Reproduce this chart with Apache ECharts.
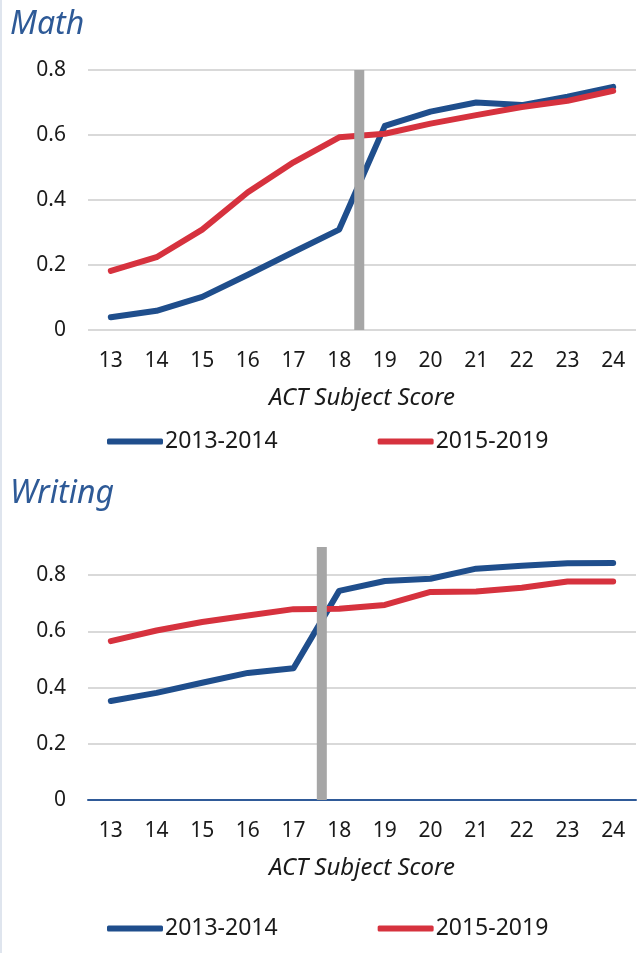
<!DOCTYPE html>
<html>
<head>
<meta charset="utf-8">
<script src="https://cdn.jsdelivr.net/npm/echarts@6/dist/echarts.min.js"></script>
<style>
html, body { margin: 0; padding: 0; background: #fff; }
#chart { width: 644px; height: 953px; }
</style>
</head>
<body>
<div id="chart"></div>
<script>
var scores = ['13', '14', '15', '16', '17', '18', '19', '20', '21', '22', '23', '24'];
var seriesNames = ['2013-2014', '2015-2019'];
var mathEarly = [0.039, 0.059, 0.102, 0.170, 0.240, 0.309, 0.628, 0.672, 0.700, 0.692, 0.718, 0.748];
var mathLate = [0.182, 0.224, 0.309, 0.424, 0.516, 0.593, 0.604, 0.635, 0.661, 0.686, 0.705, 0.736];
var writingEarly = [0.352, 0.381, 0.417, 0.452, 0.469, 0.744, 0.779, 0.787, 0.823, 0.833, 0.842, 0.843];
var writingLate = [0.565, 0.603, 0.633, 0.656, 0.679, 0.680, 0.694, 0.740, 0.742, 0.755, 0.777, 0.777];
var mathCutoff = 18.44;
var writingCutoff = 17.62;

var font = 'Noto Sans';
var blue = '#1f4e8c';
var red = '#d6323e';
var grey = '#a6a6a6';

function lineSeries(name, data, idx) {
	return {
		name: name,
		type: 'line',
		xAxisIndex: idx * 2,
		yAxisIndex: idx,
		data: data,
		showSymbol: false,
		symbol: 'none',
		lineStyle: { width: 6, cap: 'round', join: 'round' },
		z: 3
	};
}

function cutoffSeries(value, top, idx) {
	return {
		type: 'line',
		xAxisIndex: idx * 2 + 1,
		yAxisIndex: idx,
		data: [[value, 0], [value, top]],
		showSymbol: false,
		symbol: 'none',
		color: grey,
		lineStyle: { width: 10, color: grey, cap: 'butt' },
		z: 5,
		silent: true
	};
}

function catAxis(idx, showLine) {
	return {
		type: 'category',
		gridIndex: idx,
		data: scores,
		boundaryGap: true,
		axisTick: { show: false },
		axisLine: { show: showLine, lineStyle: { color: '#2f5a98', width: 2 } },
		axisLabel: { fontFamily: font, fontSize: 21, color: '#1a1a1a', margin: 21 },
		name: 'ACT Subject Score',
		nameLocation: 'middle',
		nameGap: 56,
		nameTextStyle: { fontFamily: font, fontSize: 24, fontStyle: 'italic', color: '#1a1a1a' }
	};
}

function cutAxis(idx) {
	return { type: 'value', gridIndex: idx, min: 12.5, max: 24.5, show: false };
}

function valAxis(idx, max) {
	return {
		type: 'value',
		gridIndex: idx,
		min: 0,
		max: max,
		interval: 0.2,
		axisLine: { show: false },
		axisTick: { show: false },
		axisLabel: {
			fontFamily: font, fontSize: 21, color: '#1a1a1a', margin: 22,
			showMaxLabel: max <= 0.8,
			formatter: function (v) { return v > 0.85 ? '' : String(+v.toFixed(1)); }
		},
		splitLine: { showMaxLine: max <= 0.8, lineStyle: { color: '#d9d9d9', width: 2 } }
	};
}

function legendAt(top) {
	return {
		data: seriesNames,
		top: top,
		left: 102,
		itemWidth: 56,
		itemHeight: 6,
		itemGap: 100,
		icon: 'roundRect',
		textStyle: { fontFamily: font, fontSize: 23, color: '#1a1a1a', padding: [0, 0, 0, -3] }
	};
}

var chart = echarts.init(document.getElementById('chart'));
chart.setOption({
	animation: false,
	color: [blue, red],
	title: [
		{ text: 'Math', left: 10, top: 9, padding: 0, textStyle: { fontFamily: font, fontSize: 32, fontStyle: 'italic', fontWeight: 'normal', color: '#2e5a97' } },
		{ text: 'Writing', left: 10, top: 478, padding: 0, textStyle: { fontFamily: font, fontSize: 32, fontStyle: 'italic', fontWeight: 'normal', color: '#2e5a97' } }
	],
	legend: [legendAt(425), legendAt(912)],
	grid: [
		{ left: 88, right: 8, top: 70, height: 260 },
		{ left: 88, right: 8, top: 547, height: 253 }
	],
	xAxis: [catAxis(0, false), cutAxis(0), catAxis(1, true), cutAxis(1)],
	yAxis: [valAxis(0, 0.8), valAxis(1, 0.9)],
	graphic: [{ type: 'rect', left: 0, top: 0, shape: { width: 2, height: 953 }, style: { fill: '#dfe5ee' } }],
	series: [
		lineSeries(seriesNames[0], mathEarly, 0),
		lineSeries(seriesNames[1], mathLate, 0),
		cutoffSeries(mathCutoff, 0.8, 0),
		lineSeries(seriesNames[0], writingEarly, 1),
		lineSeries(seriesNames[1], writingLate, 1),
		cutoffSeries(writingCutoff, 0.9, 1)
	]
});
</script>
</body>
</html>
